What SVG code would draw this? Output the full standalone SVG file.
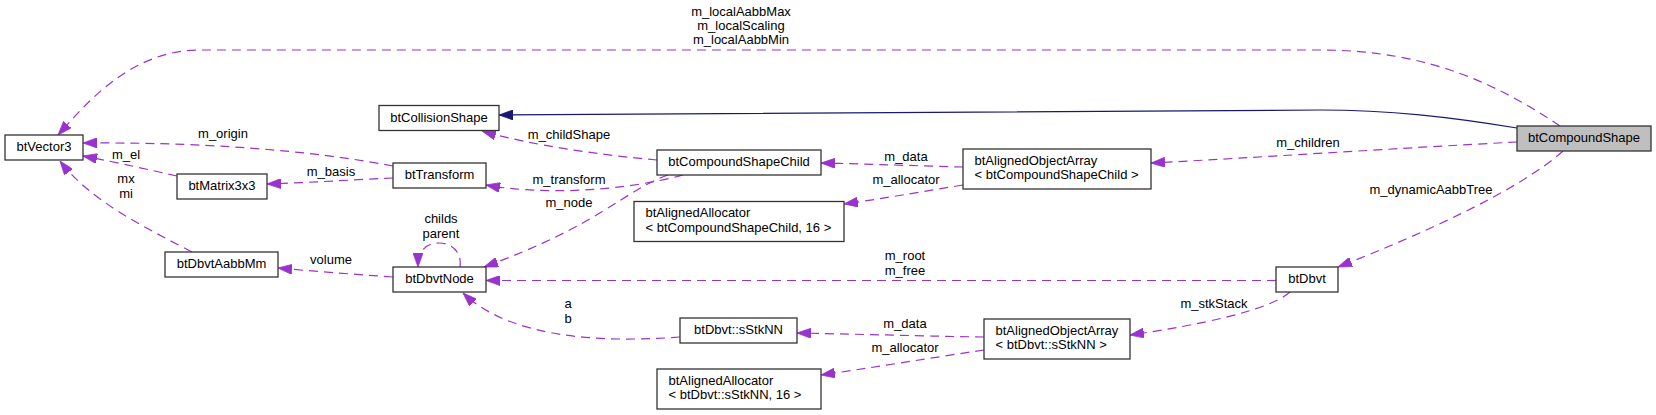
<svg xmlns="http://www.w3.org/2000/svg" width="1656" height="415" viewBox="0 0 1656 415">
<style>
.node rect{fill:#ffffff;stroke:#333333;stroke-width:1.3}
#n_btCompoundShape rect{fill:#bfbfbf}
text{font-family:"Liberation Sans",Arial,Helvetica,sans-serif;font-size:13px;fill:#000000}
.c{text-anchor:middle}
.e{fill:none;stroke:#9a32cd;stroke-width:1.2;stroke-dasharray:9,6;marker-end:url(#ap)}
.inh{fill:none;stroke:#191970;stroke-width:1.2;marker-end:url(#an)}
</style>
<defs>
<marker id="ap" markerUnits="userSpaceOnUse" viewBox="0 0 14 10" markerWidth="14" markerHeight="10" refX="14" refY="5" orient="auto">
<path d="M0,0 L14,5 L0,10 z" fill="#9a32cd" stroke="#9a32cd" stroke-width="0.8"/>
</marker>
<marker id="an" markerUnits="userSpaceOnUse" viewBox="0 0 14 10" markerWidth="14" markerHeight="10" refX="14" refY="5" orient="auto">
<path d="M0,0 L14,5 L0,10 z" fill="#191970" stroke="#191970" stroke-width="0.8"/>
</marker>
</defs>
<rect width="1656" height="415" fill="#ffffff"/>
<g id="connectors">
<path class="inh" d="M1517,128 C1450,117 1390,110 1320,110 L499,115"/>
<path class="e" d="M1560,126 C1500,86 1430,50 1320,50 L200,50 C130,50 85,105 58,135"/>
<text class="c" x="741" y="16">m_localAabbMax</text>
<text class="c" x="741" y="30">m_localScaling</text>
<text class="c" x="741" y="44">m_localAabbMin</text>
<path class="e" d="M1517,142 C1400,148 1250,158 1151,163"/>
<text class="c" x="1308" y="147">m_children</text>
<path class="e" d="M1563,151 C1520,190 1420,235 1338,267"/>
<text class="c" x="1431" y="194">m_dynamicAabbTree</text>
<path class="e" d="M657,160 C600,155 530,145 482,131"/>
<text class="c" x="569" y="139">m_childShape</text>
<path class="e" d="M683,175 C620,192 540,195 486,185"/>
<text class="c" x="569" y="184">m_transform</text>
<path class="e" d="M668,175 C625,190 600,225 484,267"/>
<text class="c" x="569" y="207">m_node</text>
<path class="e" d="M963,167 C920,166 870,164 821,163"/>
<text class="c" x="906" y="161">m_data</text>
<path class="e" d="M963,185 C920,192 880,199 844,204"/>
<text class="c" x="906" y="184">m_allocator</text>
<path class="e" d="M393,166 C330,154 230,142 83,143"/>
<text class="c" x="223" y="138">m_origin</text>
<path class="e" d="M177,176 C150,170 120,163 83,156"/>
<text class="c" x="126" y="159">m_el</text>
<path class="e" d="M393,178 C350,180 300,183 267,184"/>
<text class="c" x="331" y="176">m_basis</text>
<path class="e" d="M192,252 C140,225 90,200 60,161"/>
<text class="c" x="126" y="183">mx</text>
<text class="c" x="126" y="198">mi</text>
<path class="e" d="M393,277 C350,274 310,271 278,268"/>
<text class="c" x="331" y="264">volume</text>
<path class="e" d="M460,267 C462,252 452,243 439,243 C425,243 418,252 418,267"/>
<text class="c" x="441" y="223">childs</text>
<text class="c" x="441" y="238">parent</text>
<path class="e" d="M1276,280.5 L486,280.5"/>
<text class="c" x="905" y="260">m_root</text>
<text class="c" x="905" y="275">m_free</text>
<path class="e" d="M1290,292 C1270,310 1200,325 1130,335"/>
<text class="c" x="1214" y="308">m_stkStack</text>
<path class="e" d="M984,337 C920,336 850,334 797,333"/>
<text class="c" x="905" y="328">m_data</text>
<path class="e" d="M984,350 C930,358 870,368 821,375"/>
<text class="c" x="905" y="352">m_allocator</text>
<path class="e" d="M680,337 C600,343 510,338 463,293"/>
<text class="c" x="568" y="308">a</text>
<text class="c" x="568" y="323">b</text>
</g>
<g id="n_btCompoundShape" class="node"><rect x="1517" y="126" width="134" height="25"/><text class="c" x="1584" y="142">btCompoundShape</text></g>
<g id="n_btCollisionShape" class="node"><rect x="379" y="105.5" width="120" height="25"/><text class="c" x="439" y="121.5">btCollisionShape</text></g>
<g id="n_btVector3" class="node"><rect x="5" y="135" width="78" height="25"/><text class="c" x="44" y="151">btVector3</text></g>
<g id="n_btTransform" class="node"><rect x="393" y="163" width="93" height="25"/><text class="c" x="439.5" y="179">btTransform</text></g>
<g id="n_btMatrix3x3" class="node"><rect x="177" y="174" width="90" height="25"/><text class="c" x="222" y="190">btMatrix3x3</text></g>
<g id="n_btDbvtAabbMm" class="node"><rect x="165" y="252" width="113" height="25"/><text class="c" x="221.5" y="268">btDbvtAabbMm</text></g>
<g id="n_btDbvtNode" class="node"><rect x="393" y="267" width="93" height="25"/><text class="c" x="439.5" y="283">btDbvtNode</text></g>
<g id="n_btCompoundShapeChild" class="node"><rect x="657" y="150" width="164" height="25"/><text class="c" x="739" y="166">btCompoundShapeChild</text></g>
<g id="n_btAlignedAllocator_CSC" class="node"><rect x="634" y="201.5" width="210" height="40"/><text x="645.5" y="217">btAlignedAllocator</text><text x="645.5" y="231.5">&lt; btCompoundShapeChild, 16 &gt;</text></g>
<g id="n_btAlignedObjectArray_CSC" class="node"><rect x="963" y="149" width="188" height="40"/><text x="974.5" y="164.5">btAlignedObjectArray</text><text x="974.5" y="179">&lt; btCompoundShapeChild &gt;</text></g>
<g id="n_btDbvt" class="node"><rect x="1276" y="267" width="62" height="25"/><text class="c" x="1307" y="283">btDbvt</text></g>
<g id="n_btDbvt_sStkNN" class="node"><rect x="680" y="318" width="117" height="25"/><text class="c" x="738.5" y="334">btDbvt::sStkNN</text></g>
<g id="n_btAlignedAllocator_sStkNN" class="node"><rect x="657" y="369" width="164" height="40"/><text x="668.5" y="384.5">btAlignedAllocator</text><text x="668.5" y="399">&lt; btDbvt::sStkNN, 16 &gt;</text></g>
<g id="n_btAlignedObjectArray_sStkNN" class="node"><rect x="984" y="319" width="146" height="40"/><text x="995.5" y="334.5">btAlignedObjectArray</text><text x="995.5" y="349">&lt; btDbvt::sStkNN &gt;</text></g>
</svg>
